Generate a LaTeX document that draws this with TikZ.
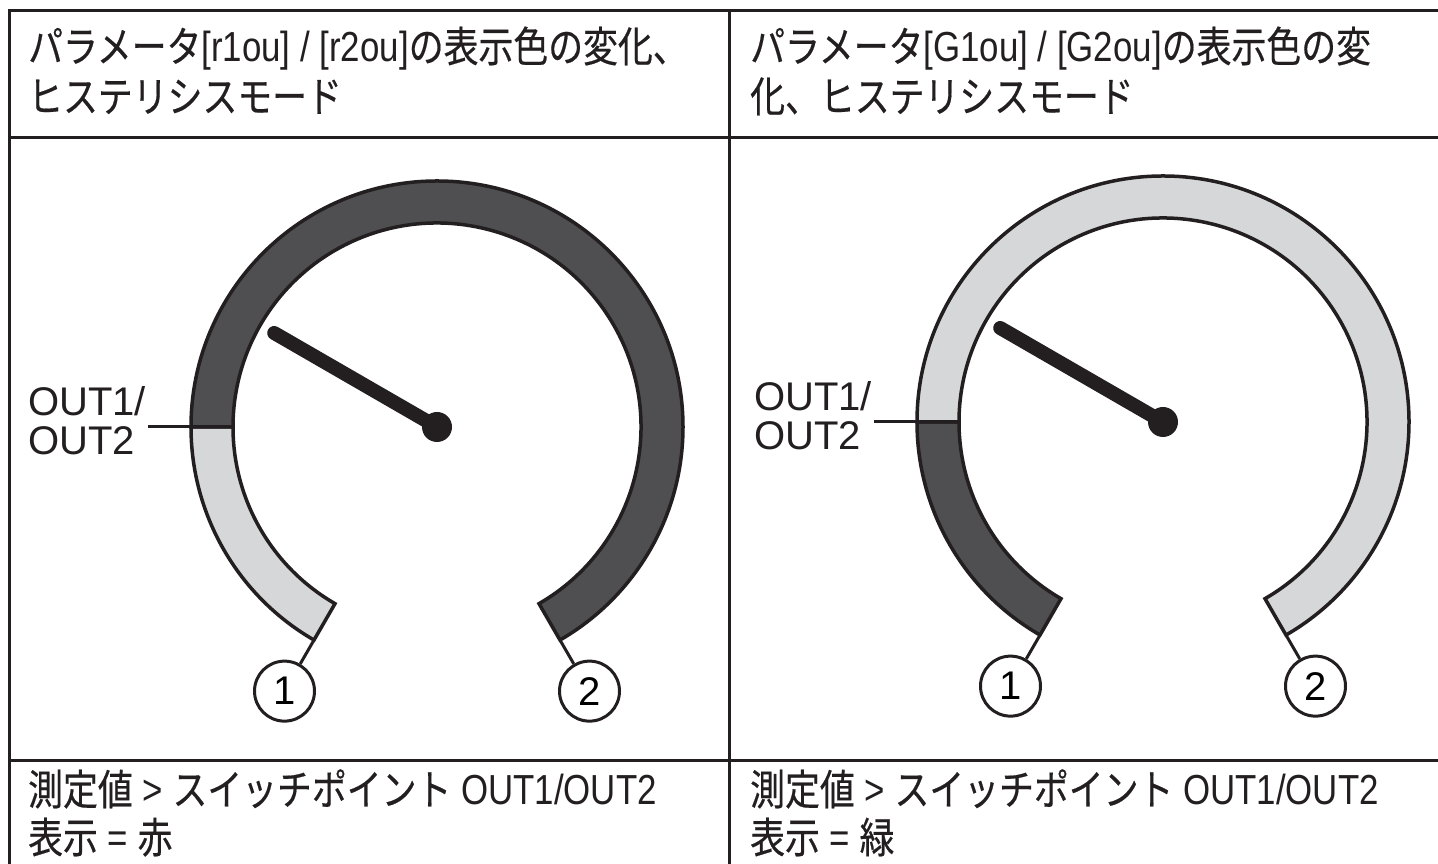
\documentclass[tikz,border=0pt]{standalone}
\usepackage{fontspec}
\setmainfont{Liberation Sans}
\newfontfamily\lat[FakeStretch=0.83]{Liberation Sans}
\newfontfamily\jpn[FakeStretch=0.83,FakeBold=0.4]{Noto Sans CJK JP}
\newfontfamily\plainsans{Liberation Sans}
\definecolor{ink}{HTML}{231F20}
\definecolor{darkg}{HTML}{4F4F51}
\definecolor{lightg}{HTML}{D6D7D9}
\tikzset{
  frame/.style={draw=ink, line width=3pt},
  ringpart/.style={draw=ink, line width=3.5pt},
  lead/.style={draw=ink, line width=3pt},
  needle/.style={draw=ink, line width=14pt, line cap=round},
  dotc/.style={circle, fill=ink, minimum size=30pt, inner sep=0pt},
  numc/.style={circle, draw=ink, line width=3pt, minimum size=60pt, inner sep=0pt, fill=white,
    font=\plainsans\fontsize{40}{44}\selectfont},
  lbl/.style={anchor=base west, inner sep=0pt, font=\plainsans\fontsize{40}{44}\selectfont, text=ink},
  ttl/.style={anchor=base west, inner sep=0pt, font=\lat\fontsize{42}{48}\selectfont, text=ink},
}
\newcommand\mygauge[5]{%
\begin{scope}[shift={(#1,#2)}]
  \filldraw[ringpart, fill=#3] (240:246) arc[start angle=240, end angle=180, radius=246]
     -- (180:204) arc[start angle=180, end angle=240, radius=204] -- cycle;
  \filldraw[ringpart, fill=#4] (180:246) arc[start angle=180, end angle=-60, radius=246]
     -- (-60:204) arc[start angle=-60, end angle=180, radius=204] -- cycle;
  \node[lbl] (#5o1) at (-409,11) {OUT1/};
  \node[lbl] (#5o2) at (-409,-28) {OUT2};
  \coordinate (#5ls) at (-289,0);
  \coordinate (#5li) at (180:204);
  \draw[lead] (#5ls) -- (#5li);
  \node[numc] (#5n1) at (240:305) {1};
  \node[numc] (#5n2) at (300:305) {2};
  \coordinate (#5e1) at (240:247.5);
  \coordinate (#5e2) at (300:247.5);
  \draw[lead] (#5e1) -- (#5n1);
  \draw[lead] (#5e2) -- (#5n2);
  \node[dotc] (#5dot) at (0,0) {};
  \coordinate (#5tip) at (150:188);
  \draw[needle] (#5dot.center) -- (#5tip);
\end{scope}}
\begin{document}
\begin{tikzpicture}[x=1pt,y=1pt]
\clip (0,0) rectangle (1438,864);
\fill[white] (0,0) rectangle (1438,864);
% table
\draw[frame] (9,-10) -- (9,853) -- (1450,853);
\draw[frame] (9,726) -- (1450,726);
\draw[frame] (9,103) -- (1450,103);
\draw[frame] (729,853) -- (729,-10);
% titles
\node[ttl] (tl1) at (28,802) {{\jpn パラメータ}[r1ou] / [r2ou]{\jpn の表示色の変化、}};
\node[ttl] (tl2) at (28,752) {{\jpn ヒステリシスモード}};
\node[ttl] (tr1) at (750,802) {{\jpn パラメータ}[G1ou] / [G2ou]{\jpn の表示色の変}};
\node[ttl] (tr2) at (750,752) {{\jpn 化、ヒステリシスモード}};
% bottom texts
\node[ttl] (bl1) at (28,59) {{\jpn 測定値} > {\jpn スイッチポイント} OUT1/OUT2};
\node[ttl] (bl2) at (28,11) {{\jpn 表示} = {\jpn 赤}};
\node[ttl] (br1) at (750,59) {{\jpn 測定値} > {\jpn スイッチポイント} OUT1/OUT2};
\node[ttl] (br2) at (750,11) {{\jpn 表示} = {\jpn 緑}};
% gauges
\mygauge{437}{437}{lightg}{darkg}{L}
\mygauge{1163}{442}{darkg}{lightg}{R}
\end{tikzpicture}
\end{document}
